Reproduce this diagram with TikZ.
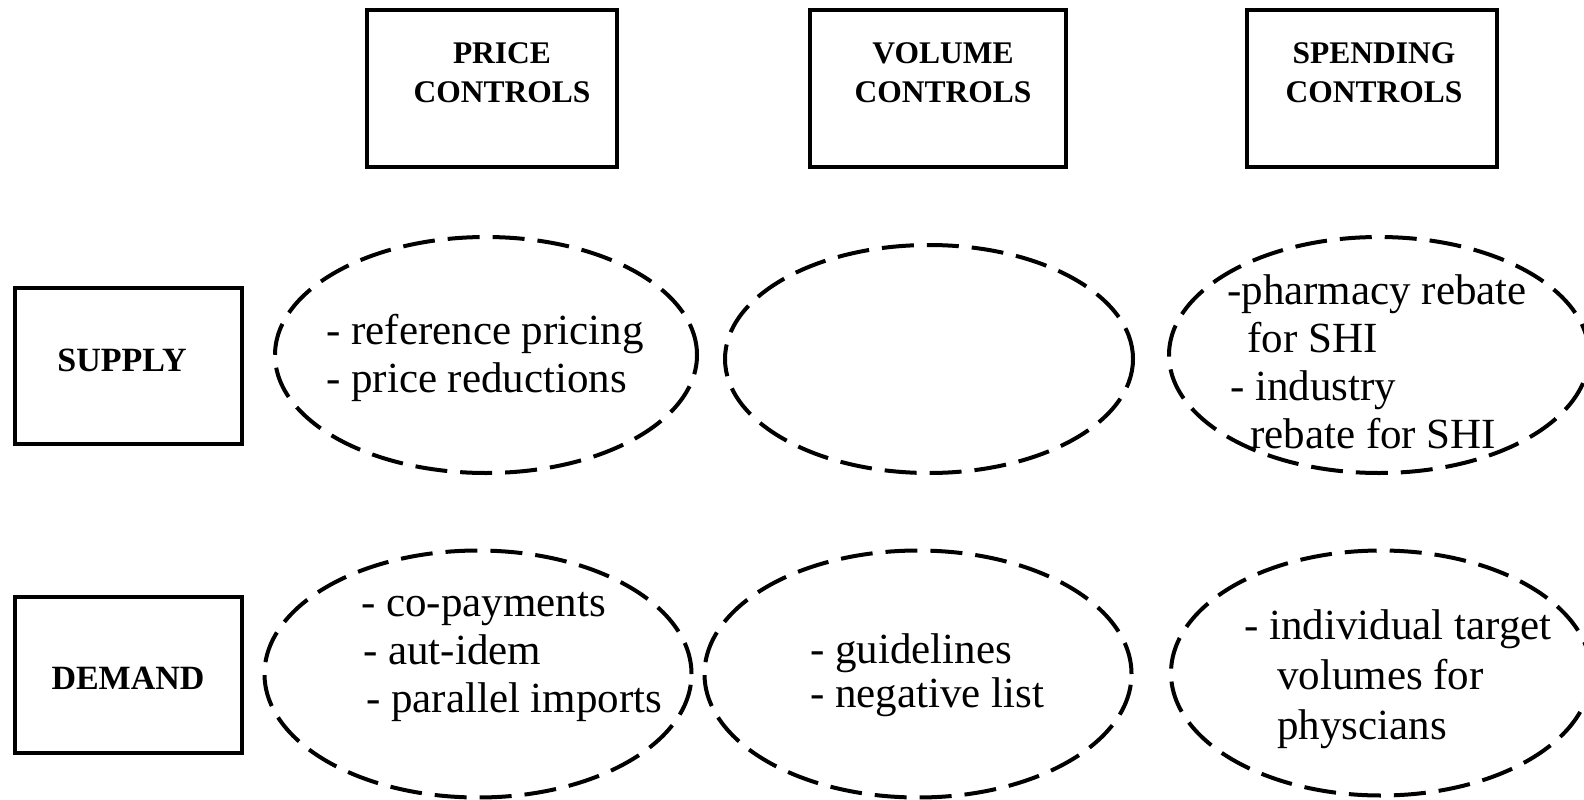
\documentclass[tikz,border=0pt]{standalone}
\usepackage{fontspec}
\setmainfont{Liberation Serif}
\usetikzlibrary{shapes.geometric}

\begin{document}
\begin{tikzpicture}[x=1pt,y=-1pt,
    ctrlbox/.style={draw,line width=4pt,minimum width=250pt,minimum height=156pt,inner sep=0pt},
    rowbox/.style={draw,line width=4pt,minimum width=227pt,minimum height=156pt,inner sep=0pt},
    hdr/.style={font=\fontsize{31.5}{39.4}\selectfont\bfseries,align=center,inner sep=0pt},
    rowtxt/.style={font=\fontsize{34}{40}\selectfont\bfseries,inner sep=0pt},
    oval/.style={draw,ellipse,line width=4pt,dash pattern=on 32pt off 13pt,inner sep=0pt},
    item/.style={font=\fontsize{43}{48}\selectfont,align=left,anchor=west,inner sep=0pt}]
      \useasboundingbox (0,0) rectangle (1584,800);

      % column heads
      \node[ctrlbox] (price) at (492,88.5) {};
      \node[hdr] (pricetxt) at (502,73) {PRICE\\CONTROLS};
      \node[ctrlbox,minimum width=256pt] (volume) at (938,88.5) {};
      \node[hdr] (volumetxt) at (943,73) {VOLUME\\CONTROLS};
      \node[ctrlbox] (spending) at (1371.5,88.5) {};
      \node[hdr] (spendingtxt) at (1374,73) {SPENDING\\CONTROLS};

      % row heads
      \node[rowbox] (supply) at (128.5,366) {};
      \node[rowtxt] (supplytxt) at (122,360) {SUPPLY};
      \node[rowbox] (demand) at (128.5,674.5) {};
      \node[rowtxt] (demandtxt) at (128,678) {DEMAND};

      % supply row
      \node[oval,minimum width=422pt,minimum height=236pt] (sprice) at (486,355) {};
      \node[item] (spricetxt) at (326,358) {- reference pricing\\- price reductions};
      \node[oval,minimum width=408pt,minimum height=228pt] (svolume) at (929,359) {};
      \node[oval,minimum width=420pt,minimum height=236pt] (sspend) at (1379,355) {};
      \node[item] (sspendtxt) at (1227,362) {-pharmacy rebate\\\hspace*{20pt}for SHI\\\hspace*{3pt}- industry\\\hspace*{23pt}rebate for SHI};

      % demand row
      \node[oval,minimum width=427pt,minimum height=247pt] (dprice) at (478,674) {};
      \node[item] (dpricetxt) at (361,657) {- co-payments\\\hspace*{2pt}- aut-idem\\\hspace*{5pt}- parallel imports};
      \node[oval,minimum width=427pt,minimum height=247pt] (dvolume) at (918,674) {};
      \node[item] (dvolumetxt) at (810,675) {- guidelines\\[-4pt]- negative list};
      \node[oval,minimum width=420pt,minimum height=245pt] (dspend) at (1381,673) {};
      \node[item] (dspendtxt) at (1244,679) {- individual target\\[2pt]\hspace*{33pt}volumes for\\[2pt]\hspace*{33pt}physcians};
\end{tikzpicture}
\end{document}
